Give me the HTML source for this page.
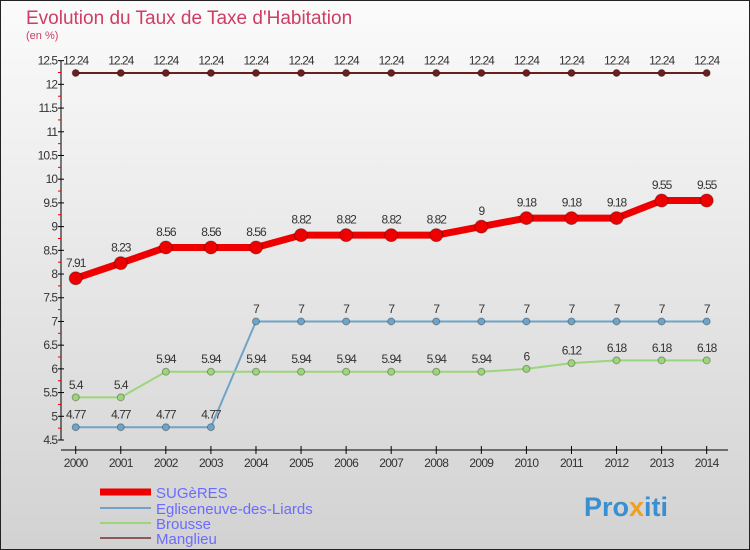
<!DOCTYPE html>
<html><head><meta charset="utf-8"><style>
body{margin:0;width:750px;height:550px;overflow:hidden}
svg{display:block;font-family:"Liberation Sans",sans-serif}
</style></head><body>
<svg id="c" width="750" height="550">
<defs><linearGradient id="bg" x1="0" y1="0" x2="0" y2="1"><stop offset="0" stop-color="#fbfbfb"/><stop offset="1" stop-color="#d2d2d2"/></linearGradient></defs>
<rect x="0.5" y="0.5" width="749" height="549" fill="url(#bg)" stroke="#222"/>
<text x="26" y="24" font-size="19" fill="#d03c64">Evolution du Taux de Taxe d'Habitation</text>
<text x="26" y="39" font-size="11" fill="#d03c64">(en %)</text>
<g id="g"></g>
<g>
<line x1="100" y1="492" x2="151" y2="492" stroke="#e00" stroke-width="7"/>
<text x="156" y="498" font-size="15" fill="#6b6bff">SUGèRES</text>
<line x1="100" y1="508" x2="151" y2="508" stroke="#6fa3c8" stroke-width="2"/>
<text x="156" y="514" font-size="15" fill="#6b6bff">Egliseneuve-des-Liards</text>
<line x1="100" y1="523" x2="151" y2="523" stroke="#9cd67a" stroke-width="2"/>
<text x="156" y="529" font-size="15" fill="#6b6bff">Brousse</text>
<line x1="100" y1="538" x2="151" y2="538" stroke="#8a5a5a" stroke-width="2"/>
<text x="156" y="544" font-size="15" fill="#6b6bff">Manglieu</text>
</g>
<text x="584" y="516" font-size="27" font-weight="bold" fill="#3a8fd0">Pro<tspan fill="#f0a020">x</tspan>iti</text>
</svg>
<script>
const years=[2000,2001,2002,2003,2004,2005,2006,2007,2008,2009,2010,2011,2012,2013,2014];
const sugeres=[7.91,8.23,8.56,8.56,8.56,8.82,8.82,8.82,8.82,9,9.18,9.18,9.18,9.55,9.55];
const egliseneuve=[4.77,4.77,4.77,4.77,7,7,7,7,7,7,7,7,7,7,7];
const brousse=[5.4,5.4,5.94,5.94,5.94,5.94,5.94,5.94,5.94,5.94,6,6.12,6.18,6.18,6.18];
const manglieu=[12.24,12.24,12.24,12.24,12.24,12.24,12.24,12.24,12.24,12.24,12.24,12.24,12.24,12.24,12.24];
const yTicks=[4.5,5,5.5,6,6.5,7,7.5,8,8.5,9,9.5,10,10.5,11,11.5,12,12.5];
const NS="http://www.w3.org/2000/svg",g=document.getElementById('g');
const X=i=>75.7+i*45.07, Y=v=>440-(v-4.5)*47.42;
function mk(t,a,p){const e=document.createElementNS(NS,t);for(const k in a)e.setAttribute(k,a[k]);(p||g).appendChild(e);return e;}
let ax=mk('line',{x1:61,y1:Y(12.5),x2:61,y2:Y(4.5),stroke:'#000'});


let xa=mk('line',{x1:61,y1:450,x2:728,y2:450,stroke:'#000'});


yTicks.forEach(v=>{
  mk('line',{x1:58,y1:Y(v),x2:64,y2:Y(v),stroke:'#000'});
  if(v<12.5) mk('line',{x1:58,y1:Y(v+0.25),x2:61,y2:Y(v+0.25),stroke:'#e00'});
  const t=mk('text',{x:57,y:Y(v)+4,'font-size':12,'text-anchor':'end',fill:'#333','letter-spacing':'-1'});
  t.textContent=String(v);
  
  
});
years.forEach((y,i)=>{
  mk('line',{x1:X(i),y1:446,x2:X(i),y2:454,stroke:'#000'});
  const t=mk('text',{x:X(i),y:467,'font-size':12,'text-anchor':'middle',fill:'#333','letter-spacing':'-0.7'});
  t.textContent=y;
  
  
});
function series(vals,color,w,r,name){
  const s=mk('g',{});
  
  
  mk('polyline',{points:vals.map((v,i)=>X(i)+','+Y(v)).join(' '),fill:'none',stroke:color,'stroke-width':w,'stroke-linejoin':'round'},s);
  vals.forEach((v,i)=>{
    const c=mk('circle',{cx:X(i),cy:Y(v),r:r,fill:color,stroke:'rgba(0,0,0,0.3)'},s);
    
    
    const t=mk('text',{x:X(i),y:Y(v)-(r+5),'font-size':12,'text-anchor':'middle',fill:'#333','letter-spacing':'-1'},s);
    t.textContent=String(v);
    
    
  });
}
series(manglieu,'#6b2020',2,3.5,'manglieu');
series(egliseneuve,'#6fa3c8',2,3.5,'egliseneuve');
series(brousse,'#9cd67a',2,3.5,'brousse');
series(sugeres,'#ee0000',7,6.5,'sugeres');
</script>
</body></html>
